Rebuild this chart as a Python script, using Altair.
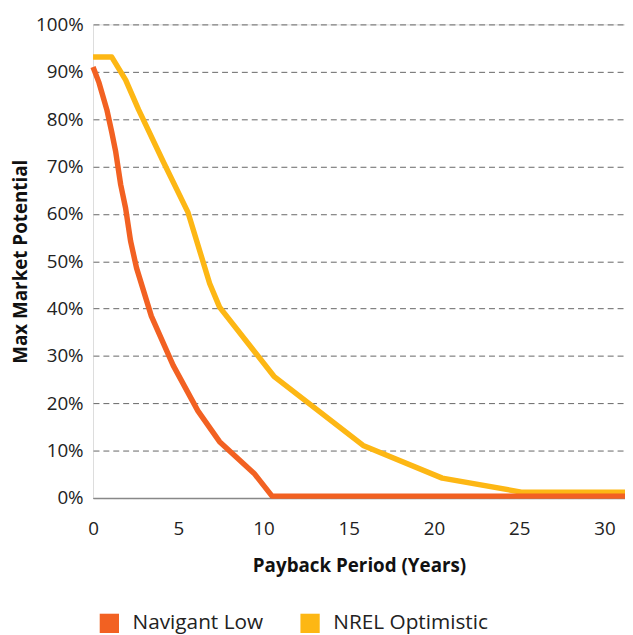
import altair as alt
import pandas as pd

series_names = ["Navigant Low", "NREL Optimistic"]
series_colors = ["#F26122", "#FDB714"]

nav_years = [0, 0.35, 0.81, 1.10, 1.33, 1.62, 1.91, 2.20, 2.55, 3.42, 4.70, 6.15, 7.42, 9.45, 10.50, 31.2]
nav_share = [91.0, 87.7, 82.0, 77.2, 73.1, 66.2, 61.2, 54.3, 48.6, 38.4, 28.0, 18.4, 11.9, 5.2, 0.4, 0.4]

nrel_years = [0, 1.10, 1.91, 2.67, 4.12, 5.57, 6.84, 7.42, 10.61, 15.84, 20.48, 25.12, 31.2]
nrel_share = [93.1, 93.1, 88.3, 82.0, 71.0, 60.3, 45.3, 40.3, 25.7, 11.1, 4.2, 1.25, 1.25]

x_ticks = [0, 5, 10, 15, 20, 25, 30]
y_ticks = [i / 10 for i in range(11)]

nav_df = pd.DataFrame({"years": nav_years, "share": [v / 100 for v in nav_share],
                       "series": series_names[0], "order": range(len(nav_years))})
nrel_df = pd.DataFrame({"years": nrel_years, "share": [v / 100 for v in nrel_share],
                        "series": series_names[1], "order": range(len(nrel_years))})
legend_df = pd.DataFrame({"series": series_names, "years": [0, 0], "share": [0, 0]})

FONT = "Open Sans"

x_enc = alt.X("years:Q",
              scale=alt.Scale(domain=[0, 31.2], nice=False, zero=False),
              axis=alt.Axis(values=x_ticks, title="Payback Period (Years)", grid=False,
                            ticks=False, labelPadding=22, labelFontSize=19, labelFont=FONT,
                            labelColor="#222", titleFont=FONT, titleFontSize=19,
                            titleFontWeight="bold", titleColor="#111", titlePadding=18,
                            domainColor="#888", domainWidth=1.5, labelFlush=False))
y_enc = alt.Y("share:Q",
              scale=alt.Scale(domain=[0, 1], nice=False),
              axis=alt.Axis(values=y_ticks, format=".0%", title="Max Market Potential",
                            grid=True, gridDash=[6, 4], gridColor="#666", gridWidth=1,
                            ticks=False, domain=False, labelPadding=10, labelFontSize=19,
                            labelFont=FONT, labelColor="#222", titleFont=FONT,
                            titleFontSize=19, titleFontWeight="bold", titleColor="#111",
                            titlePadding=5))

color_scale = alt.Scale(domain=series_names, range=series_colors)

nrel_line = alt.Chart(nrel_df).mark_line(strokeWidth=5.5, strokeJoin="round").encode(
    x=x_enc, y=y_enc, color=alt.Color("series:N", scale=color_scale, legend=None),
    order="order:Q")
nav_line = alt.Chart(nav_df).mark_line(strokeWidth=5.5, strokeJoin="round").encode(
    x=x_enc, y=y_enc, color=alt.Color("series:N", scale=color_scale, legend=None),
    order="order:Q")

legend_layer = alt.Chart(legend_df).mark_square(size=0, filled=True, opacity=1).encode(
    x=x_enc, y=y_enc,
    color=alt.Color("series:N", scale=color_scale,
                    legend=alt.Legend(title=None, orient="none", legendX=6, legendY=595,
                                      direction="horizontal", symbolType="square",
                                      symbolSize=380, symbolStrokeWidth=0,
                                      labelFont=FONT, labelFontSize=21, labelColor="#222",
                                      labelOffset=13, columnPadding=36)))

chart = alt.layer(nrel_line, nav_line, legend_layer).resolve_legend(
    color="independent"
).properties(
    width=538, height=479,
    autosize=alt.AutoSizeParams(type="none"),
    padding={"left": 86, "top": 13, "right": 0, "bottom": 140},
).configure_view(stroke=None).configure(background="white")

chart.save("out.html", embed_options={"renderer": "svg", "actions": False})
